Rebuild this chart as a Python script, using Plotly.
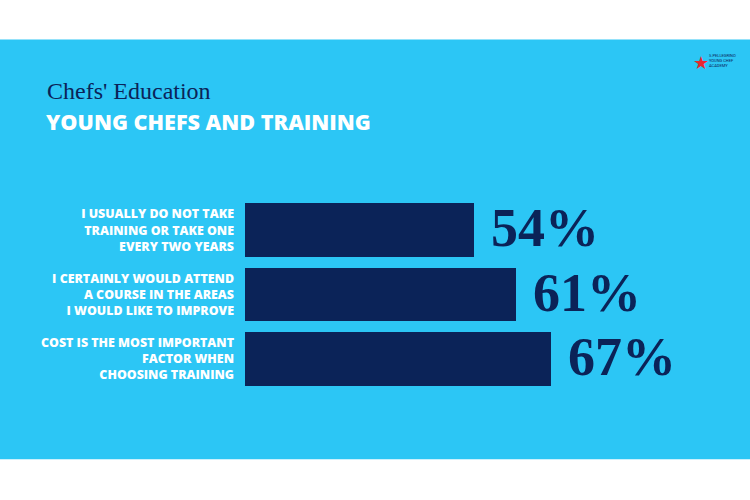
import plotly.graph_objects as go

categories = [
    "I USUALLY DO NOT TAKE<br>TRAINING OR TAKE ONE<br>EVERY TWO YEARS",
    "I CERTAINLY WOULD ATTEND<br>A COURSE IN THE AREAS<br>I WOULD LIKE TO IMPROVE",
    "COST IS THE MOST IMPORTANT<br>FACTOR WHEN<br>CHOOSING TRAINING",
]
values = [54, 61, 67]
value_labels = ["54%", "61%", "67%"]

W, H = 750, 500
L, R, T, B = 245, 50, 198, 106.5
NAVY = "#0B2358"
BLUE = "#2CC6F5"

pw = W - L - R
ph = H - T - B


def px_x(x):
    return (x - L) / pw


def px_y(y):
    return (H - B - y) / ph


fig = go.Figure()
fig.add_trace(go.Bar(
    x=values, y=categories, orientation="h",
    marker=dict(color=NAVY, line=dict(width=0)),
    width=0.83, hoverinfo="skip",
))

annotations = []
for v, c, t in zip(values, categories, value_labels):
    annotations.append(dict(
        x=v, y=c, xref="x", yref="y", text=t, showarrow=False,
        xanchor="left", yanchor="middle", xshift=15, yshift=2,
        font=dict(family="Liberation Serif", size=54, color=NAVY, weight="bold"),
    ))

annotations.append(dict(
    x=px_x(45), y=px_y(91), xref="paper", yref="paper",
    text="Chefs' Education", showarrow=False, xanchor="left", yanchor="middle",
    font=dict(family="Liberation Serif", size=24, color=NAVY),
))
annotations.append(dict(
    x=px_x(44), y=px_y(121), xref="paper", yref="paper",
    text="YOUNG CHEFS AND TRAINING", showarrow=False, xanchor="left", yanchor="middle",
    font=dict(family="Open Sans", size=21.6, color="white", weight=800),
))
# logo
annotations.append(dict(
    x=px_x(701), y=px_y(62), xref="paper", yref="paper",
    text="★", showarrow=False, xanchor="center", yanchor="middle",
    font=dict(family="DejaVu Sans", size=18, color="#E8262F"),
))
annotations.append(dict(
    x=px_x(707), y=px_y(60), xref="paper", yref="paper",
    text="S.PELLEGRINO<br>YOUNG CHEF<br>ACADEMY", showarrow=False,
    xanchor="left", yanchor="middle", align="left",
    font=dict(family="Roboto", size=4, color=NAVY),
))

shapes = [dict(
    type="rect", xref="paper", yref="paper", layer="below",
    x0=px_x(0), x1=px_x(W), y0=px_y(460), y1=px_y(39),
    fillcolor=BLUE, line=dict(width=0),
)]

fig.update_layout(
    width=W, height=H,
    margin=dict(l=L, r=R, t=T, b=B, pad=0),
    paper_bgcolor="white", plot_bgcolor="rgba(0,0,0,0)",
    showlegend=False, bargap=0,
    annotations=annotations, shapes=shapes,
    xaxis=dict(range=[15.5, 15.5 + pw / 5.95], visible=False, fixedrange=True),
    yaxis=dict(
        autorange="reversed", showgrid=False, zeroline=False, showline=False,
        ticks="", ticklabelstandoff=10,
        tickfont=dict(family="Open Sans", size=12.4, color="white", weight=800),
        fixedrange=True,
    ),
)

fig.write_html("out.html")
